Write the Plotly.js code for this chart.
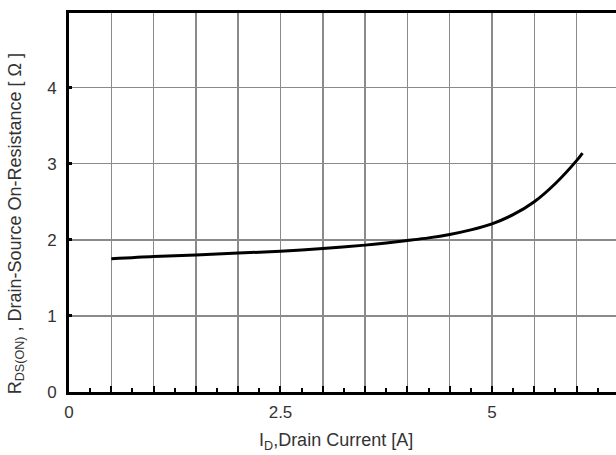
<!DOCTYPE html>
<html>
<head>
<meta charset="utf-8">
<script src="https://cdn.plot.ly/plotly-3.0.1.min.js"></script>
<style>html,body{margin:0;padding:0;background:#fff;}#chart{width:616px;height:455px;}</style>
</head>
<body>
<div id="chart"></div>
<script>
// Drain current [A]
const currentA = [0.5, 1.0, 1.5, 2.0, 2.5, 3.0, 3.5, 3.75, 4.0, 4.25, 4.5, 4.75, 5.0, 5.25, 5.5, 5.75, 6.0, 6.07];
// On-resistance [Ω]
const resistanceOhm = [1.75, 1.78, 1.80, 1.825, 1.85, 1.885, 1.93, 1.957, 1.99, 2.025, 2.07, 2.13, 2.21, 2.33, 2.50, 2.74, 3.04, 3.14];
// x tick positions / labels
const xTickVals = [0, 0.5, 1, 1.5, 2, 2.5, 3, 3.5, 4, 4.5, 5, 5.5, 6];
const xTickText = ['0', '', '', '', '', '2.5', '', '', '', '', '5', '', ''];
const yTickVals = [0, 1, 2, 3, 4];
const yTickText = ['0', '1', '2', '3', '4'];
const xTitle = 'I<sub>D</sub>,Drain Current [A]';
const yTitle = 'R<sub>DS(ON)</sub> , Drain-Source On-Resistance [ Ω ]';

const trace = {
  x: currentA, y: resistanceOhm, type: 'scatter', mode: 'lines',
  line: {color: '#000', width: 3, shape: 'spline', smoothing: 0.8},
  hoverinfo: 'skip'
};

const layout = {
  width: 616, height: 455,
  margin: {l: 69, r: 0, t: 13, b: 63},
  paper_bgcolor: '#fff', plot_bgcolor: '#fff',
  showlegend: false,
  font: {family: '"Liberation Sans", Arial, sans-serif', size: 17, color: '#333'},
  xaxis: {
    range: [0, 6.466], tickmode: 'array', tickvals: xTickVals, ticktext: xTickText,
    ticks: 'inside', ticklen: 6, tickwidth: 2, tickcolor: '#000',
    showgrid: true, gridcolor: '#8a8a8a', gridwidth: 1.5,
    showline: true, linecolor: '#000', linewidth: 3, mirror: true,
    zeroline: false, ticklabelstandoff: 3,
    tickfont: {size: 17, color: '#333'},
    minor: {dtick: 0.25, ticks: 'inside', ticklen: 4, tickwidth: 2, tickcolor: '#000', showgrid: false}
  },
  yaxis: {
    range: [0, 4.98], tickmode: 'array', tickvals: yTickVals, ticktext: yTickText,
    ticks: 'inside', ticklen: 3, tickwidth: 3, tickcolor: '#000',
    showgrid: true, gridcolor: '#8a8a8a', gridwidth: 1.5,
    showline: true, linecolor: '#000', linewidth: 3, mirror: false,
    zeroline: false, ticklabelstandoff: 6,
    tickfont: {size: 17, color: '#333'}
  },
  annotations: [
    {text: xTitle, xref: 'paper', yref: 'paper', x: 0.488, y: -0.13,
     xanchor: 'center', yanchor: 'middle', showarrow: false,
     font: {size: 18, color: '#333'}},
    {text: yTitle, xref: 'paper', yref: 'paper', x: -0.097, y: 0.445,
     xanchor: 'center', yanchor: 'middle', showarrow: false, textangle: -90,
     font: {size: 18, color: '#333'}}
  ]
};

Plotly.newPlot('chart', [trace], layout, {staticPlot: true, displayModeBar: false});
</script>
</body>
</html>
